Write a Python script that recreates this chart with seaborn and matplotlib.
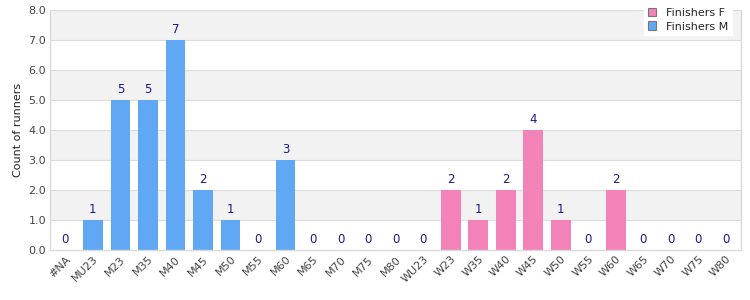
import pandas as pd
import matplotlib.pyplot as plt
import seaborn as sns

# Data
categories = ["#NA", "MU23", "M23", "M35", "M40", "M45", "M50", "M55", "M60",
              "M65", "M70", "M75", "M80", "WU23", "W23", "W35", "W40", "W45",
              "W50", "W55", "W60", "W65", "W70", "W75", "W80"]
counts = [0, 1, 5, 5, 7, 2, 1, 0, 3, 0, 0, 0, 0,
          0, 2, 1, 2, 4, 1, 0, 2, 0, 0, 0, 0]
series = ["Finishers M"] * 13 + ["Finishers F"] * 12

data = pd.DataFrame({"Category": categories, "Count": counts, "Series": series})

sns.set_style("white")
plt.rcParams["font.family"] = ["DejaVu Sans"]

fig = plt.figure(figsize=(7.5, 3), dpi=100)
ax = fig.add_axes([0.067, 0.167, 0.921, 0.8])

# ---- Alternating bands ----
for i in range(8):
    ax.axhspan(i, i + 1, color="#f2f2f2" if i % 2 == 1 else "white", zorder=0, lw=0)
for i in range(1, 9):
    ax.axhline(i, color="#dddddd", lw=0.8, zorder=0.5)

palette = {"Finishers F": "#f282b8", "Finishers M": "#60a8f4"}
sns.barplot(x="Category", y="Count", hue="Series", data=data, dodge=False,
            hue_order=["Finishers F", "Finishers M"], palette=palette,
            width=0.72, saturation=1, linewidth=0, ax=ax, zorder=2)

# value labels
for i, v in enumerate(counts):
    ax.text(i, v + 0.12, str(v), ha="center", va="bottom", fontsize=8.5,
            color="#1a1a8c", zorder=3)

ax.set_ylim(0, 8)
ax.set_xlim(-0.55, len(categories) - 0.45)
ax.set_yticks(range(0, 9))
ax.set_yticklabels([f"{v:.1f}" for v in range(0, 9)], fontsize=8, color="#444444")
ax.set_xticks(range(len(categories)))
ax.set_xticklabels(categories, rotation=45, ha="right", rotation_mode="anchor",
                   fontsize=8, color="#444444")
ax.tick_params(axis="both", length=0, pad=3)
ax.set_xlabel("")
ax.set_ylabel("Count of runners", fontsize=8, color="#222222")

for side in ["left", "bottom", "right"]:
    ax.spines[side].set_color("#d9d9d9")
    ax.spines[side].set_linewidth(1)
ax.spines["top"].set_visible(False)

handles, labels = ax.get_legend_handles_labels()
for h in handles:
    h.set_edgecolor("#777777")
    h.set_linewidth(0.8)
leg = ax.legend(handles, labels, loc="upper right", bbox_to_anchor=(0.995, 1.045),
                fontsize=8, frameon=True, fancybox=False, framealpha=1,
                edgecolor="white", handlelength=0.8, handleheight=0.8,
                borderpad=0.3, labelspacing=0.3, handletextpad=0.9)
leg.set_zorder(5)

fig.savefig("out.png", dpi=100)
